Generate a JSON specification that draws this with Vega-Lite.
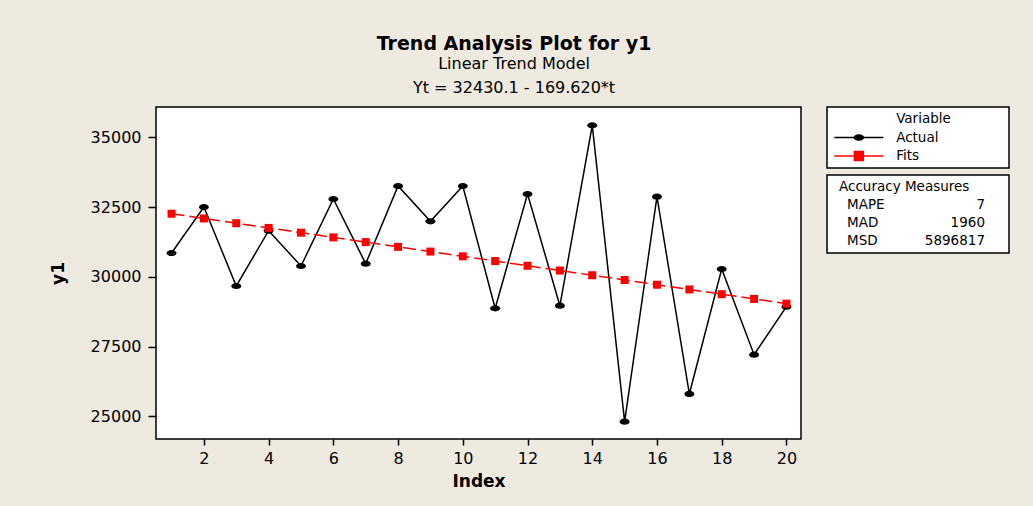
{
  "$schema": "https://vega.github.io/schema/vega-lite/v6.json",
  "background": "#EEEAE0",
  "padding": {"left": 48, "top": 35, "right": 25, "bottom": 21},
  "title": {
    "text": "Trend Analysis Plot for y1",
    "subtitle": ["Linear Trend Model", "Yt = 32430.1 - 169.620*t"],
    "anchor": "middle",
    "dx": -15,
    "font": "DejaVu Sans",
    "fontSize": 19,
    "fontWeight": "bold",
    "color": "#000000",
    "subtitleFont": "DejaVu Sans",
    "subtitleFontSize": 16,
    "subtitleColor": "#000000",
    "subtitlePadding": 2,
    "subtitleLineHeight": 24,
    "offset": 10
  },
  "datasets": {
    "trend": [
      {"t": 1, "Actual": 30853, "Fits": 32260.48},
      {"t": 2, "Actual": 32500, "Fits": 32090.86},
      {"t": 3, "Actual": 29670, "Fits": 31921.24},
      {"t": 4, "Actual": 31653, "Fits": 31751.62},
      {"t": 5, "Actual": 30387, "Fits": 31582.0},
      {"t": 6, "Actual": 32789, "Fits": 31412.38},
      {"t": 7, "Actual": 30470, "Fits": 31242.76},
      {"t": 8, "Actual": 33255, "Fits": 31073.14},
      {"t": 9, "Actual": 31989, "Fits": 30903.52},
      {"t": 10, "Actual": 33255, "Fits": 30733.9},
      {"t": 11, "Actual": 28871, "Fits": 30564.28},
      {"t": 12, "Actual": 32968, "Fits": 30394.66},
      {"t": 13, "Actual": 28965, "Fits": 30225.04},
      {"t": 14, "Actual": 35430, "Fits": 30055.42},
      {"t": 15, "Actual": 24807, "Fits": 29885.8},
      {"t": 16, "Actual": 32871, "Fits": 29716.18},
      {"t": 17, "Actual": 25800, "Fits": 29546.56},
      {"t": 18, "Actual": 30280, "Fits": 29376.94},
      {"t": 19, "Actual": 27208, "Fits": 29207.32},
      {"t": 20, "Actual": 28929, "Fits": 29037.7}
    ],
    "variables": [
      {"item": "Actual"},
      {"item": "Fits"}
    ],
    "accuracy": [
      {"measure": "MAPE", "value": "7"},
      {"measure": "MAD", "value": "1960"},
      {"measure": "MSD", "value": "5896817"}
    ]
  },
  "spacing": 24,
  "resolve": {"scale": {"x": "independent", "y": "independent", "color": "independent", "shape": "independent"}},
  "hconcat": [
    {
      "width": 645,
      "height": 332,
      "data": {"name": "trend"},
      "encoding": {
        "x": {
          "field": "t",
          "type": "quantitative",
          "title": "Index",
          "scale": {"domain": [0.52, 20.45], "nice": false, "zero": false},
          "axis": {
            "values": [2, 4, 6, 8, 10, 12, 14, 16, 18, 20],
            "tickSize": 6,
            "labelPadding": 5,
            "titlePadding": 7
          }
        }
      },
      "layer": [
        {
          "mark": {"type": "line", "color": "#000000", "strokeWidth": 1.5},
          "encoding": {
            "y": {
              "field": "Actual",
              "type": "quantitative",
              "title": "y1",
              "scale": {"domain": [24186, 36086], "nice": false, "zero": false},
              "axis": {
                "values": [25000, 27500, 30000, 32500, 35000],
                "format": "d",
                "tickSize": 8,
                "labelPadding": 7,
                "titlePadding": 23
              }
            }
          }
        },
        {
          "mark": {"type": "line", "color": "#FF0000", "strokeWidth": 1.5, "strokeDash": [13, 5]},
          "encoding": {
            "y": {"field": "Fits", "type": "quantitative", "title": "y1"}
          }
        },
        {
          "mark": {
            "type": "point",
            "filled": true,
            "opacity": 1,
            "color": "#000000",
            "shape": "M-1,0A1,0.62 0 1,1 1,0A1,0.62 0 1,1 -1,0Z",
            "size": 100
          },
          "encoding": {
            "y": {"field": "Actual", "type": "quantitative", "title": "y1"}
          }
        },
        {
          "mark": {"type": "point", "filled": true, "opacity": 1, "color": "#FF0000", "shape": "square", "size": 64},
          "encoding": {
            "y": {"field": "Fits", "type": "quantitative", "title": "y1"}
          }
        }
      ]
    },
    {
      "spacing": 5,
      "resolve": {"scale": {"x": "independent", "y": "independent", "color": "independent", "shape": "independent"}},
      "vconcat": [
        {
          "width": 182,
          "height": 61,
          "layer": [
            {
              "data": {"values": [{"item": "Variable"}]},
              "mark": {"type": "text", "align": "left", "baseline": "middle", "font": "DejaVu Sans", "fontSize": 13.5, "color": "#000000"},
              "encoding": {
                "x": {"datum": 38, "type": "quantitative", "scale": {"domain": [0, 100]}, "axis": null},
                "y": {"field": "item", "type": "nominal", "scale": {"type": "point", "domain": ["Variable", "Actual", "Fits"], "padding": 0.65}, "axis": null},
                "text": {"field": "item"}
              }
            },
            {
              "data": {"name": "variables"},
              "mark": {"type": "rule", "strokeWidth": 1.5},
              "encoding": {
                "x": {"datum": 4, "type": "quantitative"},
                "x2": {"datum": 31},
                "y": {"field": "item", "type": "nominal"},
                "color": {"field": "item", "type": "nominal", "scale": {"domain": ["Actual", "Fits"], "range": ["#000000", "#FF0000"]}, "legend": null}
              }
            },
            {
              "data": {"name": "variables"},
              "mark": {"type": "point", "filled": true, "opacity": 1, "size": 110},
              "encoding": {
                "x": {"datum": 17.5, "type": "quantitative"},
                "y": {"field": "item", "type": "nominal"},
                "color": {"field": "item", "type": "nominal", "legend": null},
                "shape": {"field": "item", "type": "nominal", "scale": {"domain": ["Actual", "Fits"], "range": ["M-1,0A1,0.62 0 1,1 1,0A1,0.62 0 1,1 -1,0Z", "square"]}, "legend": null}
              }
            },
            {
              "data": {"name": "variables"},
              "mark": {"type": "text", "align": "left", "baseline": "middle", "font": "DejaVu Sans", "fontSize": 13.5, "color": "#000000"},
              "encoding": {
                "x": {"datum": 38, "type": "quantitative"},
                "y": {"field": "item", "type": "nominal"},
                "text": {"field": "item"}
              }
            }
          ]
        },
        {
          "width": 182,
          "height": 78,
          "layer": [
            {
              "data": {"values": [{"measure": "Accuracy Measures"}]},
              "mark": {"type": "text", "align": "left", "baseline": "middle", "font": "DejaVu Sans", "fontSize": 13.5, "color": "#000000"},
              "encoding": {
                "x": {"datum": 6.6, "type": "quantitative", "scale": {"domain": [0, 100]}, "axis": null},
                "y": {"field": "measure", "type": "nominal", "scale": {"type": "point", "domain": ["Accuracy Measures", "MAPE", "MAD", "MSD"], "padding": 0.7}, "axis": null},
                "text": {"field": "measure"}
              }
            },
            {
              "data": {"name": "accuracy"},
              "mark": {"type": "text", "align": "left", "baseline": "middle", "font": "DejaVu Sans", "fontSize": 13.5, "color": "#000000"},
              "encoding": {
                "x": {"datum": 11, "type": "quantitative"},
                "y": {"field": "measure", "type": "nominal"},
                "text": {"field": "measure"}
              }
            },
            {
              "data": {"name": "accuracy"},
              "mark": {"type": "text", "align": "right", "baseline": "middle", "font": "DejaVu Sans", "fontSize": 13.5, "color": "#000000"},
              "encoding": {
                "x": {"datum": 86.8, "type": "quantitative"},
                "y": {"field": "measure", "type": "nominal"},
                "text": {"field": "value"}
              }
            }
          ]
        }
      ]
    }
  ],
  "config": {
    "view": {"stroke": "#000000", "strokeWidth": 1.5, "fill": "#FFFFFF"},
    "axis": {
      "domain": false,
      "grid": false,
      "labelFont": "DejaVu Sans",
      "labelFontSize": 16,
      "labelColor": "#000000",
      "tickColor": "#000000",
      "tickWidth": 1.5,
      "titleFont": "DejaVu Sans",
      "titleFontSize": 17,
      "titleFontWeight": "bold",
      "titleColor": "#000000"
    }
  }
}
